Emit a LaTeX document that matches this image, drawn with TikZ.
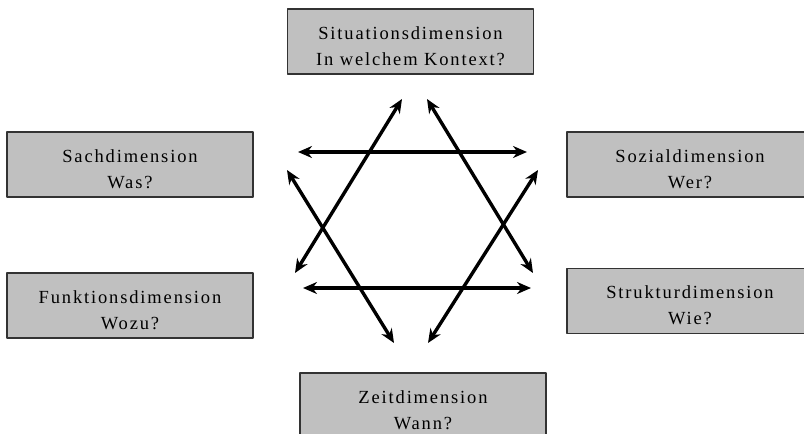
\documentclass[tikz,border=0pt]{standalone}
\usepackage{fontspec}
\setmainfont[LetterSpace=10]{Liberation Serif}
\usetikzlibrary{arrows.meta}
\definecolor{boxgray}{HTML}{C0C0C0}
\newcommand{\dimlabel}[2]{\rule{0pt}{22pt}#1\\#2}
\begin{document}
\begin{tikzpicture}[x=1pt,y=-1pt, font=\fontsize{18.5}{26}\selectfont, line join=round, >={Stealth[length=14pt,width=12pt]},
	dimbox/.style={draw=black!80,line width=1.4pt,fill=boxgray,minimum width=246pt,minimum height=65pt,align=center,inner sep=0pt},
	dimarrow/.style={<->,line width=3.4pt}]
		\useasboundingbox (0,0) rectangle (804,434);
		\clip (0,0) rectangle (804,434);
		\node[dimbox] (situ) at (410.5,41.5) {\dimlabel{Situationsdimension}{In welchem Kontext?}};
		\node[dimbox] (sach) at (130,164.5) {\dimlabel{Sachdimension}{Was?}};
		\node[dimbox] (sozial) at (690,164.5) {\dimlabel{Sozialdimension}{Wer?}};
		\node[dimbox] (funk) at (130,305.5) {\dimlabel{Funktionsdimension}{Wozu?}};
		\node[dimbox] (struk) at (690,301) {\dimlabel{Strukturdimension}{Wie?}};
		\node[dimbox] (zeit) at (423,405.5) {\dimlabel{Zeitdimension}{Wann?}};
		% arrow ends
		\coordinate (sachE) at (298,152);
		\coordinate (sozW) at (527,152);
		\coordinate (funkE) at (303,288);
		\coordinate (strukW) at (531,288);
		\coordinate (situL) at (402,99);
		\coordinate (situR) at (427,99);
		\coordinate (funkN) at (295,273);
		\coordinate (strukN) at (533,273);
		\coordinate (sachS) at (287,170);
		\coordinate (sozS) at (538,170);
		\coordinate (zeitL) at (394,343);
		\coordinate (zeitR) at (428,343);
		\draw[dimarrow] (sachE)--(sozW);
		\draw[dimarrow] (funkE)--(strukW);
		\draw[dimarrow] (funkN)--(situL);
		\draw[dimarrow] (strukN)--(situR);
		\draw[dimarrow] (sachS)--(zeitL);
		\draw[dimarrow] (sozS)--(zeitR);
	\end{tikzpicture}
\end{document}
